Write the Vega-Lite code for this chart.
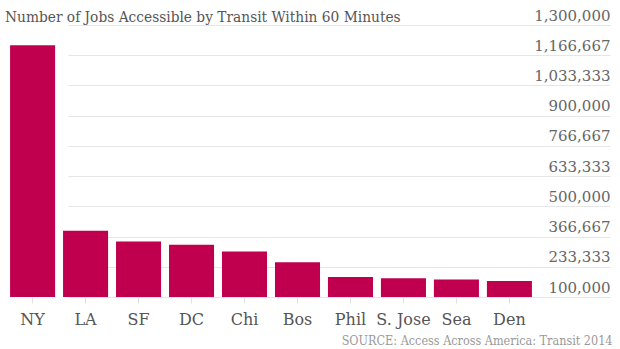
{
  "$schema": "https://vega.github.io/schema/vega-lite/v6.json",
  "width": 610,
  "height": 272,
  "autosize": {"type": "none"},
  "padding": {"left": 0, "top": 25, "right": 10, "bottom": 52},
  "background": "white",
  "title": {
    "text": "Number of Jobs Accessible by Transit Within 60 Minutes",
    "anchor": "start",
    "frame": "group",
    "dx": 5,
    "dy": 21,
    "offset": 4,
    "fontSize": 15.3,
    "font": "DejaVu Serif Condensed",
    "fontWeight": "normal",
    "color": "#555555"
  },
  "data": {
    "values": [
      {"city": "NY", "jobs": 1211000},
      {"city": "LA", "jobs": 392000},
      {"city": "SF", "jobs": 345000},
      {"city": "DC", "jobs": 330000},
      {"city": "Chi", "jobs": 300600},
      {"city": "Bos", "jobs": 253600},
      {"city": "Phil", "jobs": 188600},
      {"city": "S. Jose", "jobs": 182800},
      {"city": "Sea", "jobs": 176700},
      {"city": "Den", "jobs": 170800}
    ]
  },
  "mark": {"type": "bar", "color": "#c0004e"},
  "encoding": {
    "x": {
      "field": "city",
      "type": "nominal",
      "sort": null,
      "scale": {"range": [0, 542], "paddingInner": 0.15, "paddingOuter": 0.19},
      "axis": {
        "title": "SOURCE: Access Across America: Transit 2014",
        "titleX": 612,
        "titleY": 47,
        "titleAlign": "right",
        "titleAnchor": null,
        "titleBaseline": "alphabetic",
        "titleFont": "DejaVu Serif Condensed",
        "titleFontSize": 12.5,
        "titleFontWeight": "normal",
        "titleColor": "#999999",
        "labelAngle": 0,
        "labelFont": "DejaVu Serif",
        "labelFontSize": 16,
        "labelColor": "#555555",
        "labelPadding": 8,
        "domain": false,
        "ticks": true,
        "tickColor": "#e0e0e0",
        "tickSize": 6,
        "grid": false
      }
    },
    "y": {
      "field": "jobs",
      "type": "quantitative",
      "scale": {"domain": [100000, 1300000], "zero": false, "nice": false},
      "axis": {
        "orient": "right",
        "title": null,
        "values": [100000, 233333.333, 366666.667, 500000, 633333.333, 766666.667, 900000, 1033333.333, 1166666.667, 1300000],
        "format": ",.0f",
        "labelAlign": "right",
        "labelBaseline": "bottom",
        "labelPadding": 0,
        "labelOffset": -2,
        "labelFont": "DejaVu Serif",
        "labelFontSize": 15,
        "labelColor": "#666666",
        "ticks": false,
        "domain": false,
        "grid": true,
        "gridColor": "#e6e6e6",
        "labelOverlap": false
      }
    },
    "y2": {"datum": 100000}
  },
  "config": {"view": {"stroke": null}}
}
